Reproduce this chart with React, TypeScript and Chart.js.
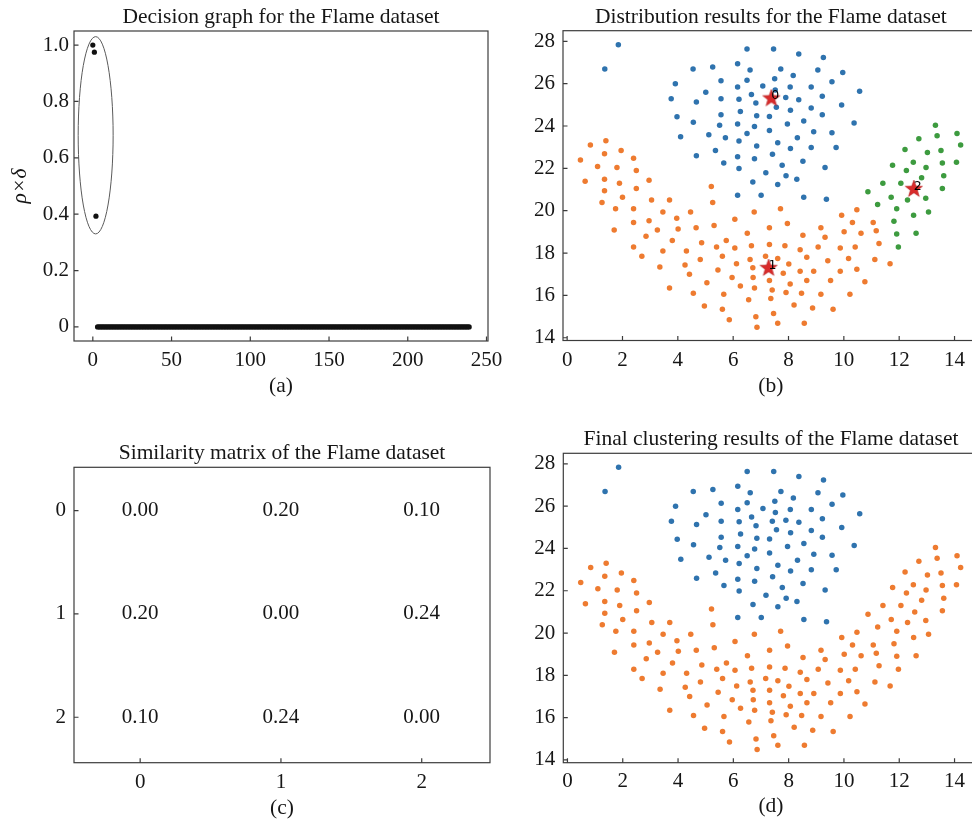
import React, { useEffect, useRef } from 'react';
import { Chart, registerables } from 'chart.js';

Chart.register(...registerables);

// ---------------- data ----------------
// (a) decision graph: rho*delta sorted in decreasing order
const decisionPeakValues = [1.0, 0.975, 0.393];
const decisionRestCount = 237;
const decisionRestValue = 0;
const decisionXTicks = [0, 50, 100, 150, 200, 250];
const decisionYTicks = [0, 0.2, 0.4, 0.6, 0.8, 1.0];
const decisionYTickLabels = ['0', '0.2', '0.4', '0.6', '0.8', '1.0'];
// ellipse marking the selected centres (data units)
const ellipseCenter = [1.8, 0.68];
const ellipseRadii = [11.1, 0.35];

// (b)/(d) Flame dataset clusters, [x, y]
const clusterUpper: number[][] = [
  [1.36, 26.69], [1.85, 27.84], [3.76, 25.29], [3.91, 26.0], [3.97, 24.44], [4.1, 23.49], [4.55, 26.69], [4.56, 24.18],
  [4.67, 25.13], [4.67, 22.59], [5.01, 25.59], [5.12, 23.59], [5.26, 26.79], [5.36, 22.84], [5.51, 24.04], [5.56, 26.14],
  [5.56, 25.29], [5.56, 24.53], [5.66, 22.25], [5.72, 23.44], [6.16, 26.94], [6.16, 25.84], [6.16, 24.09], [6.16, 22.55],
  [6.16, 20.73], [6.21, 25.26], [6.21, 23.29], [6.21, 21.99], [6.26, 24.69], [6.5, 27.64], [6.5, 26.16], [6.5, 23.65],
  [6.61, 26.64], [6.66, 25.49], [6.77, 23.98], [6.77, 22.45], [6.82, 25.08], [6.85, 24.48], [6.85, 23.05], [6.71, 21.35],
  [7.01, 20.73], [7.07, 25.89], [7.18, 21.79], [7.31, 24.45], [7.31, 23.79], [7.41, 25.29], [7.42, 22.66], [7.46, 27.64],
  [7.5, 26.23], [7.52, 25.7], [7.56, 24.89], [7.61, 23.21], [7.61, 21.24], [7.72, 26.69], [7.77, 22.15], [7.9, 25.34],
  [7.91, 21.65], [7.96, 24.09], [8.06, 25.84], [8.07, 24.74], [8.07, 22.94], [8.17, 26.39], [8.3, 21.49], [8.32, 23.44],
  [8.37, 27.4], [8.37, 25.24], [8.52, 22.34], [8.55, 24.23], [8.55, 20.64], [8.82, 25.84], [8.82, 24.85], [8.82, 22.99],
  [8.91, 23.73], [9.06, 26.64], [9.22, 25.4], [9.22, 24.53], [9.26, 27.24], [9.32, 22.04], [9.37, 20.54], [9.57, 23.68],
  [9.57, 26.09], [9.72, 22.99], [9.92, 24.99], [9.96, 26.53], [10.37, 24.14], [10.57, 25.64],
];

const clusterLower: number[][] = [
  [0.48, 22.39], [0.65, 21.39], [0.84, 23.1], [1.1, 22.09], [1.26, 20.39], [1.35, 22.69], [1.35, 21.49], [1.35, 20.94],
  [1.4, 23.3], [1.7, 19.09], [1.75, 20.09], [1.8, 22.04], [1.89, 21.3], [1.95, 22.84], [2.0, 20.64], [2.4, 22.48],
  [2.4, 20.09], [2.4, 19.44], [2.4, 18.29], [2.5, 21.9], [2.5, 21.05], [2.7, 17.85], [2.85, 18.79], [2.96, 21.44],
  [2.96, 19.53], [3.05, 20.5], [3.26, 19.09], [3.35, 17.34], [3.46, 18.1], [3.46, 19.94], [3.7, 20.5], [3.7, 16.35],
  [3.8, 18.59], [3.96, 19.64], [4.01, 19.14], [4.31, 18.1], [4.26, 17.44], [4.42, 17.0], [4.46, 19.94], [4.56, 16.1],
  [4.66, 19.19], [4.81, 17.69], [4.86, 18.49], [4.96, 15.5], [5.05, 16.6], [5.21, 21.14], [5.26, 20.39], [5.31, 19.3],
  [5.4, 18.29], [5.45, 17.2], [5.61, 17.85], [5.66, 16.05], [5.61, 15.34], [5.75, 18.59], [5.86, 14.85], [5.96, 16.85],
  [6.06, 19.6], [6.06, 18.24], [6.12, 17.5], [6.26, 16.44], [6.51, 18.93], [6.56, 15.8], [6.61, 17.69], [6.66, 18.34],
  [6.71, 17.3], [6.72, 16.85], [6.76, 19.94], [6.77, 16.35], [6.82, 14.99], [6.86, 14.5], [7.17, 17.85], [7.31, 19.19],
  [7.31, 18.4], [7.31, 17.3], [7.31, 16.7], [7.36, 15.85], [7.41, 16.25], [7.46, 15.15], [7.61, 14.69], [7.61, 17.74],
  [7.71, 20.09], [7.81, 17.04], [7.87, 18.34], [7.91, 16.14], [7.96, 19.39], [8.01, 17.48], [8.06, 16.54], [8.2, 15.55],
  [8.42, 18.15], [8.42, 17.14], [8.47, 16.1], [8.52, 18.84], [8.57, 14.69], [8.66, 17.8], [8.66, 16.7], [8.87, 15.4],
  [8.91, 17.14], [9.07, 18.29], [9.17, 19.19], [9.17, 16.05], [9.32, 18.75], [9.42, 17.64], [9.52, 16.7], [9.61, 15.34],
  [9.87, 18.24], [9.87, 17.14], [9.92, 19.79], [10.01, 19.0], [10.17, 17.74], [10.22, 16.05], [10.31, 19.44], [10.41, 18.29],
  [10.47, 20.04], [10.47, 17.23], [10.62, 18.93], [10.76, 16.65], [11.06, 19.44], [11.12, 17.69], [11.17, 19.05], [11.27, 18.45],
  [11.67, 17.5],
];

const clusterTip: number[][] = [
  [10.87, 20.89], [11.22, 20.29], [11.41, 21.3], [11.71, 20.64], [11.76, 22.15], [11.81, 19.5], [11.91, 18.9], [11.91, 20.09],
  [11.97, 18.29], [12.06, 21.3], [12.21, 22.89], [12.26, 21.9], [12.3, 20.5], [12.51, 22.29], [12.56, 21.0], [12.52, 19.79],
  [12.61, 18.93], [12.71, 23.4], [12.81, 21.55], [12.96, 20.59], [12.97, 22.04], [13.02, 22.75], [13.06, 19.94], [13.31, 24.04],
  [13.37, 23.54], [13.51, 22.84], [13.56, 22.25], [13.61, 21.65], [13.56, 21.05], [14.09, 23.65], [14.07, 22.29], [14.22, 23.1],
];

const centerX = [7.38, 7.28, 12.53];
const centerY = [25.3, 17.29, 21.02];
const centerLabels = ['0', '1', '2'];

const flameXTicks = [0, 2, 4, 6, 8, 10, 12, 14];
const flameYTicks = [14, 16, 18, 20, 22, 24, 26, 28];

// (c) similarity matrix
const similarityRow0 = [0.0, 0.2, 0.1];
const similarityRow1 = [0.2, 0.0, 0.24];
const similarityRow2 = [0.1, 0.24, 0.0];
const similarityTicks = [0, 1, 2];

// ---------------- styles ----------------
const SERIF = "'Liberation Serif', 'Times New Roman', serif";
const TEXT = '#161616';
const AXIS = '#3c3c3c';
const BLUE = '#2f73ae';
const ORANGE = '#ee7b30';
const GREEN = '#3d9b3f';
const STAR = '#d92b2b';
const TICK_SIZE = 21;
const TITLE_SIZE = 21.5;

const toPts = (arr: number[][]) => arr.map((p) => ({ x: p[0], y: p[1] }));

function makeStar(color: string) {
  const c = document.createElement('canvas');
  c.width = 20;
  c.height = 20;
  const g = c.getContext('2d')!;
  g.beginPath();
  for (let i = 0; i < 10; i++) {
    const r = i % 2 === 0 ? 9 : 3.7;
    const a = -Math.PI / 2 + (i * Math.PI) / 5;
    const px = 10 + r * Math.cos(a);
    const py = 10 + r * Math.sin(a);
    if (i === 0) g.moveTo(px, py);
    else g.lineTo(px, py);
  }
  g.closePath();
  g.fillStyle = color;
  g.fill();
  g.strokeStyle = '#b41f1f';
  g.lineWidth = 0.6;
  g.stroke();
  return c;
}

const framePlugin = {
  id: 'frameTicks',
  afterDraw(chart: any) {
    const { ctx, chartArea: a } = chart;
    const xs = chart.scales.x;
    const ys = chart.scales.y;
    ctx.save();
    ctx.strokeStyle = AXIS;
    ctx.lineWidth = 1.2;
    ctx.strokeRect(a.left, a.top, a.right - a.left, a.bottom - a.top);
    ctx.beginPath();
    xs.ticks.forEach((t: any) => {
      const p = xs.getPixelForValue(t.value);
      ctx.moveTo(p, a.bottom);
      ctx.lineTo(p, a.bottom - 4.5);
    });
    ys.ticks.forEach((t: any) => {
      const p = ys.getPixelForValue(t.value);
      ctx.moveTo(a.left, p);
      ctx.lineTo(a.left + 4.5, p);
    });
    ctx.stroke();
    ctx.restore();
  },
};

const ellipsePlugin = {
  id: 'ellipse',
  afterDatasetsDraw(chart: any) {
    const { ctx } = chart;
    const xs = chart.scales.x;
    const ys = chart.scales.y;
    const cx = xs.getPixelForValue(ellipseCenter[0]);
    const cy = ys.getPixelForValue(ellipseCenter[1]);
    const rx = Math.abs(xs.getPixelForValue(ellipseCenter[0] + ellipseRadii[0]) - cx);
    const ry = Math.abs(ys.getPixelForValue(ellipseCenter[1] + ellipseRadii[1]) - cy);
    ctx.save();
    ctx.strokeStyle = '#5a5a5a';
    ctx.lineWidth = 1;
    ctx.beginPath();
    ctx.ellipse(cx, cy, rx, ry, 0, 0, Math.PI * 2);
    ctx.stroke();
    ctx.restore();
  },
};

const starLabelPlugin = {
  id: 'starLabels',
  afterDatasetsDraw(chart: any) {
    const { ctx } = chart;
    const xs = chart.scales.x;
    const ys = chart.scales.y;
    ctx.save();
    ctx.fillStyle = '#000';
    ctx.font = "12.5px 'DejaVu Sans', sans-serif";
    ctx.textAlign = 'left';
    ctx.textBaseline = 'alphabetic';
    centerLabels.forEach((lab, i) => {
      ctx.fillText(lab, xs.getPixelForValue(centerX[i]), ys.getPixelForValue(centerY[i]) + 1);
    });
    ctx.restore();
  },
};

const matrixTextPlugin = {
  id: 'matrixText',
  afterDatasetsDraw(chart: any) {
    const { ctx } = chart;
    const xs = chart.scales.x;
    const ys = chart.scales.y;
    const rows = [similarityRow0, similarityRow1, similarityRow2];
    ctx.save();
    ctx.fillStyle = TEXT;
    ctx.font = `${TICK_SIZE}px ${SERIF}`;
    ctx.textAlign = 'center';
    ctx.textBaseline = 'middle';
    rows.forEach((row, r) => {
      row.forEach((v, c) => {
        ctx.fillText(v.toFixed(2), xs.getPixelForValue(c), ys.getPixelForValue(r));
      });
    });
    ctx.restore();
  },
};

function axis(o: {
  min: number; max: number; ticks: number[]; labels?: string[]; horizontal: boolean; size: number;
  pad: number; reverse?: boolean; title?: string; titlePad?: any; italic?: boolean;
}) {
  return {
    type: 'linear',
    min: o.min,
    max: o.max,
    reverse: !!o.reverse,
    grid: { display: false, drawTicks: false },
    border: { display: false },
    ticks: {
      color: TEXT,
      font: { family: SERIF, size: TICK_SIZE, weight: 'normal', lineHeight: 1.2 },
      padding: o.pad,
      maxRotation: 0,
      autoSkip: false,
      callback: (v: number) => {
        const i = o.ticks.indexOf(v);
        return o.labels && i >= 0 ? o.labels[i] : String(v);
      },
    },
    afterBuildTicks: (s: any) => {
      s.ticks = o.ticks.map((v) => ({ value: v }));
    },
    afterFit: (s: any) => {
      if (o.horizontal) s.height = o.size;
      else s.width = o.size;
    },
    title: {
      display: !!o.title,
      text: o.title || '',
      color: TEXT,
      font: { family: SERIF, size: TITLE_SIZE, weight: 'normal', lineHeight: 1.2, style: o.italic ? 'italic' : 'normal' },
      padding: o.titlePad || { top: 0, bottom: 0 },
    },
  };
}

function baseOptions(title: string, padTop: number, padRight: number, titleBottom: number, scales: any) {
  return {
    animation: false,
    responsive: false,
    devicePixelRatio: 1,
    layout: { padding: { left: 0, right: padRight, top: padTop, bottom: 0 } },
    plugins: {
      legend: { display: false },
      tooltip: { enabled: false },
      title: {
        display: true,
        text: title,
        fullSize: false,
        color: TEXT,
        font: { family: SERIF, size: TITLE_SIZE, weight: 'normal', lineHeight: 1.2 },
        padding: { top: 0, bottom: titleBottom },
      },
    },
    scales,
  };
}

function buildDecision() {
  const values = [...decisionPeakValues, ...new Array(decisionRestCount).fill(decisionRestValue)];
  return {
    type: 'scatter',
    data: {
      datasets: [
        {
          data: values.map((v, i) => ({ x: i, y: v })),
          backgroundColor: '#111',
          borderWidth: 0,
          pointRadius: 2.6,
        },
      ],
    },
    options: baseOptions('Decision graph for the Flame dataset', 4.8, 32, 0.4, {
      x: axis({ min: -11.95, max: 250.95, ticks: decisionXTicks, horizontal: true, size: 69, pad: 7, title: '(a)', titlePad: { top: 0, bottom: 10.9 } }),
      y: axis({ min: -0.05, max: 1.05, ticks: decisionYTicks, labels: decisionYTickLabels, horizontal: false, size: 74, pad: 5, title: 'ρ×δ', titlePad: { top: 7.4, bottom: 0 }, italic: true }),
    }),
    plugins: [ellipsePlugin, framePlugin],
  };
}

function dots(arr: number[][], color: string) {
  return { data: toPts(arr), backgroundColor: color, borderWidth: 0, pointRadius: 2.75 };
}

function buildDistribution() {
  const star = makeStar(STAR);
  return {
    type: 'scatter',
    data: {
      datasets: [
        {
          data: centerX.map((x, i) => ({ x, y: centerY[i] })),
          pointStyle: star,
          pointRadius: 8,
          borderWidth: 0,
        },
        dots(clusterTip, GREEN),
        dots(clusterLower, ORANGE),
        dots(clusterUpper, BLUE),
      ],
    },
    options: baseOptions('Distribution results for the Flame dataset', 4.8, 11.4, 0.1, {
      x: axis({ min: -0.15, max: 14.87, ticks: flameXTicks, horizontal: true, size: 69.5, pad: 7, title: '(b)', titlePad: { top: 0, bottom: 10.9 } }),
      y: axis({ min: 13.87, max: 28.5, ticks: flameYTicks, horizontal: false, size: 73, pad: 8 }),
    }),
    plugins: [starLabelPlugin, framePlugin],
  };
}

function buildSimilarity() {
  const rows = [similarityRow0, similarityRow1, similarityRow2];
  const cells: any[] = [];
  rows.forEach((row, r) => row.forEach((v, c) => cells.push({ x: c, y: r })));
  return {
    type: 'scatter',
    data: { datasets: [{ data: cells, pointRadius: 0 }] },
    options: baseOptions('Similarity matrix of the Flame dataset', 20.8, 30, 0.7, {
      x: axis({ min: -0.47, max: 2.485, ticks: similarityTicks, horizontal: true, size: 67.3, pad: 7.5, title: '(c)', titlePad: { top: 0, bottom: 8.8 } }),
      y: axis({ min: -0.42, max: 2.44, ticks: similarityTicks, horizontal: false, size: 74, pad: 8, reverse: true }),
    }),
    plugins: [matrixTextPlugin, framePlugin],
  };
}

function buildFinal() {
  return {
    type: 'scatter',
    data: {
      datasets: [dots([...clusterLower, ...clusterTip], ORANGE), dots(clusterUpper, BLUE)],
    },
    options: baseOptions('Final clustering results of the Flame dataset', 6.4, 11.4, 1.1, {
      x: axis({ min: -0.15, max: 14.87, ticks: flameXTicks, horizontal: true, size: 67.3, pad: 6.5, title: '(d)', titlePad: { top: 0, bottom: 10.4 } }),
      y: axis({ min: 13.87, max: 28.5, ticks: flameYTicks, horizontal: false, size: 73.3, pad: 8 }),
    }),
    plugins: [framePlugin],
  };
}

function Panel(props: { left: number; top: number; width: number; height: number; build: () => any }) {
  const ref = useRef<HTMLCanvasElement | null>(null);
  useEffect(() => {
    if (!ref.current) return;
    const chart = new Chart(ref.current, props.build());
    return () => chart.destroy();
  }, []);
  return (
    <canvas
      ref={ref}
      width={props.width}
      height={props.height}
      style={{ position: 'absolute', left: props.left, top: props.top, width: props.width, height: props.height }}
    />
  );
}

export default function App() {
  return (
    <div
      style={{
        position: 'fixed',
        left: 0,
        top: 0,
        width: 972,
        height: 820,
        overflow: 'hidden',
        background: '#fff',
      }}
    >
      <Panel left={0} top={0} width={520} height={410} build={buildDecision} />
      <Panel left={490} top={0} width={500} height={410} build={buildDistribution} />
      <Panel left={0} top={420} width={520} height={410} build={buildSimilarity} />
      <Panel left={490} top={420} width={500} height={410} build={buildFinal} />
    </div>
  );
}
